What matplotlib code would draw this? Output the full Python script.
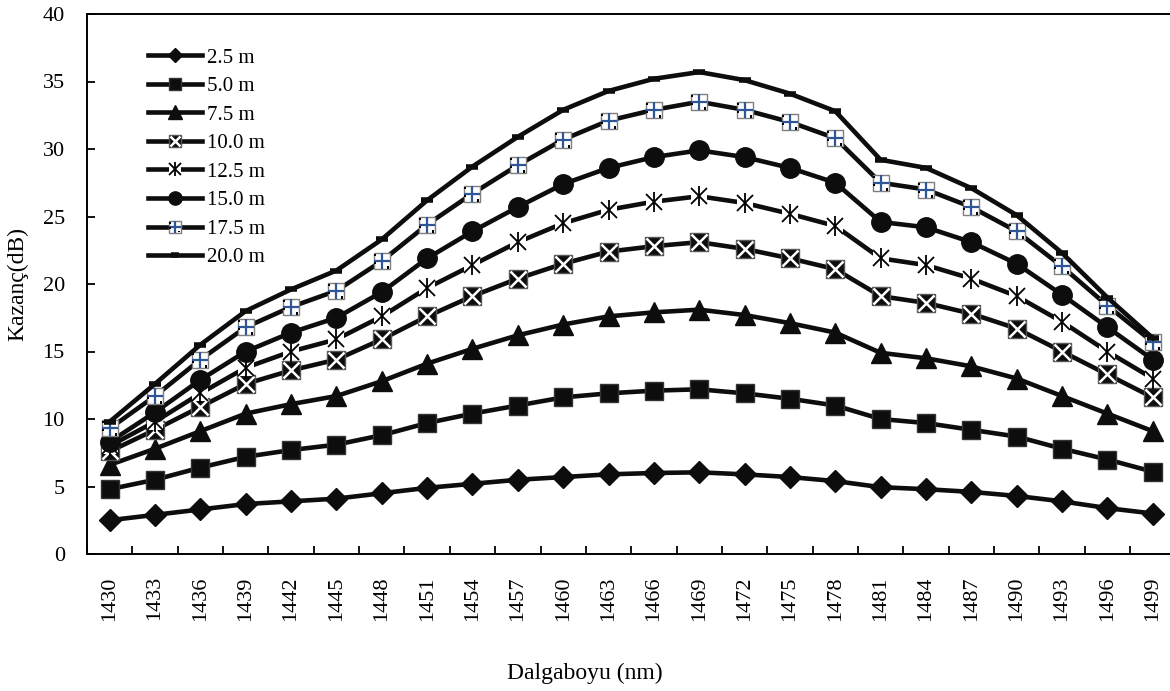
import numpy as np
import matplotlib
matplotlib.use("Agg")
import matplotlib.pyplot as plt
from matplotlib.path import Path

# --------------------
# Veriler
# --------------------
dalgaboyu = [1430, 1433, 1436, 1439, 1442, 1445, 1448, 1451, 1454, 1457, 1460, 1463,
             1466, 1469, 1472, 1475, 1478, 1481, 1484, 1487, 1490, 1493, 1496, 1499]

kazanc_2_5 = [2.5, 2.9, 3.3, 3.7, 3.9, 4.1, 4.5, 4.9, 5.2, 5.5, 5.7, 5.9,
              6.0, 6.05, 5.9, 5.7, 5.4, 4.95, 4.8, 4.6, 4.3, 3.9, 3.4, 3.0]
kazanc_5_0 = [4.8, 5.5, 6.4, 7.2, 7.7, 8.1, 8.8, 9.7, 10.4, 11.0, 11.6, 11.9,
              12.1, 12.2, 11.9, 11.5, 11.0, 10.0, 9.7, 9.2, 8.7, 7.8, 7.0, 6.1]
kazanc_7_5 = [6.6, 7.8, 9.1, 10.4, 11.1, 11.7, 12.8, 14.1, 15.2, 16.2, 17.0, 17.6,
              17.9, 18.1, 17.7, 17.1, 16.4, 14.9, 14.5, 13.9, 13.0, 11.7, 10.4, 9.1]
kazanc_10_0 = [7.6, 9.2, 10.9, 12.6, 13.6, 14.4, 15.9, 17.6, 19.1, 20.4, 21.5, 22.4,
               22.8, 23.1, 22.6, 21.9, 21.1, 19.1, 18.6, 17.8, 16.7, 15.0, 13.3, 11.6]
kazanc_12_5 = [8.0, 9.8, 11.9, 13.8, 15.0, 15.9, 17.6, 19.7, 21.4, 23.1, 24.5, 25.5,
               26.1, 26.5, 26.0, 25.2, 24.3, 21.9, 21.4, 20.4, 19.1, 17.2, 15.0, 13.0]
kazanc_15_0 = [8.3, 10.5, 12.9, 15.0, 16.4, 17.5, 19.4, 21.9, 23.9, 25.7, 27.4, 28.6,
               29.4, 29.9, 29.4, 28.6, 27.5, 24.6, 24.2, 23.1, 21.5, 19.2, 16.8, 14.4]
kazanc_17_5 = [9.3, 11.7, 14.4, 16.8, 18.3, 19.5, 21.7, 24.4, 26.7, 28.8, 30.7, 32.1,
               32.9, 33.5, 32.9, 32.0, 30.8, 27.5, 27.0, 25.7, 23.9, 21.3, 18.4, 15.7]
kazanc_20_0 = [9.8, 12.6, 15.5, 18.0, 19.6, 21.0, 23.3, 26.2, 28.7, 30.9, 32.9, 34.3,
               35.2, 35.7, 35.1, 34.1, 32.8, 29.2, 28.6, 27.1, 25.1, 22.3, 19.0, 16.0]

etiketler = ["2.5 m", "5.0 m", "7.5 m", "10.0 m", "12.5 m", "15.0 m", "17.5 m", "20.0 m"]

plt.rcParams["font.family"] = ["Liberation Serif", "DejaVu Serif"]

# --------------------
# Grafik
# --------------------
fig = plt.figure(figsize=(11.7, 6.91), dpi=100)
W, H = 1170, 691
sol, alt, ust = 87, 554, 14
adim = 45.35
ax = fig.add_axes([sol / W, 1 - alt / H, 24 * adim / W, (alt - ust) / H])

x = np.arange(len(dalgaboyu))
renk = "#0d0d0d"
lw = 3.3

# kutu içindeki noktalar (17.5 m işaretçisi)
noktalar = Path.make_compound_path(
    Path.unit_rectangle().transformed(
        matplotlib.transforms.Affine2D().scale(0.12).translate(-0.38, 0.22)),
    Path.unit_rectangle().transformed(
        matplotlib.transforms.Affine2D().scale(0.12).translate(0.22, -0.36)),
    Path.unit_rectangle().transformed(
        matplotlib.transforms.Affine2D().scale(0.12).translate(-0.38, -0.15)),
)

h1, = ax.plot(x, kazanc_2_5, color=renk, lw=lw, marker="D", ms=11, mfc=renk, mec=renk)
h2, = ax.plot(x, kazanc_5_0, color=renk, lw=lw, marker="s", ms=13, mfc=renk, mec="#333333", mew=1)
h3, = ax.plot(x, kazanc_7_5, color=renk, lw=lw, marker="^", ms=14, mfc=renk, mec=renk, mew=1)

h4, = ax.plot(x, kazanc_10_0, color=renk, lw=lw, marker="s", ms=12.5, mfc=renk, mec="#555555", mew=1)
h4x, = ax.plot(x, kazanc_10_0, ls="none", marker="x", ms=11, mec="white", mew=1.8)

h5, = ax.plot(x, kazanc_12_5, color=renk, lw=lw, marker="s", ms=12, mfc="white", mec="white", mew=0)
h5x, = ax.plot(x, kazanc_12_5, ls="none", marker="x", ms=12, mec="black", mew=1.3)
h5y, = ax.plot(x, kazanc_12_5, ls="none", marker="|", ms=15, mec="black", mew=1.3)

h6, = ax.plot(x, kazanc_15_0, color=renk, lw=lw, marker="o", ms=14, mfc=renk, mec=renk)

h7, = ax.plot(x, kazanc_17_5, color=renk, lw=lw, marker="s", ms=12, mfc="white", mec="#7f7f7f", mew=1)
h7p, = ax.plot(x, kazanc_17_5, ls="none", marker="+", ms=12, mec="#2f5597", mew=1.6)
h7n, = ax.plot(x, kazanc_17_5, ls="none", marker=noktalar, ms=12, mfc="black", mec="black", mew=0)

h8, = ax.plot(x, kazanc_20_0, color=renk, lw=lw, marker="_", ms=8, mec=renk, mew=4)

# --------------------
# Eksenler
# --------------------
ax.set_xlim(-0.5, 23.5)
ax.set_ylim(0, 40)
ax.set_yticks(np.arange(0, 41, 5))
ax.set_xticks(np.arange(-0.5, 24, 1))
ax.set_xticklabels([])
ax.set_xticks(x, minor=True)
ax.set_xticklabels([str(d) for d in dalgaboyu], minor=True, rotation=90)
ax.tick_params(axis="x", which="major", direction="in", length=6, width=1.3)
ax.tick_params(axis="x", which="minor", length=0, pad=16, labelsize=16)
ax.tick_params(axis="y", direction="in", length=6, width=1.3, pad=16, labelsize=16)
for s in ax.spines.values():
    s.set_linewidth(1.4)
    s.set_color("black")

ax.set_ylabel("Kazanç(dB)", fontsize=17, labelpad=10)
fig.text(0.5, 1 - 673 / H, "Dalgaboyu (nm)", ha="center", va="center", fontsize=17)

handles = [h1, h2, h3, (h4, h4x), (h5, h5x, h5y), h6, (h7, h7p, h7n), h8]
ax.legend(handles, etiketler, loc="upper left", bbox_to_anchor=(148 / W, 1 - 48 / H),
          bbox_transform=fig.transFigure, frameon=False, fontsize=15,
          handlelength=2.6, handletextpad=0.25, labelspacing=0.43,
          borderpad=0, borderaxespad=0, markerscale=0.68)

fig.savefig("out.png", dpi=100)
